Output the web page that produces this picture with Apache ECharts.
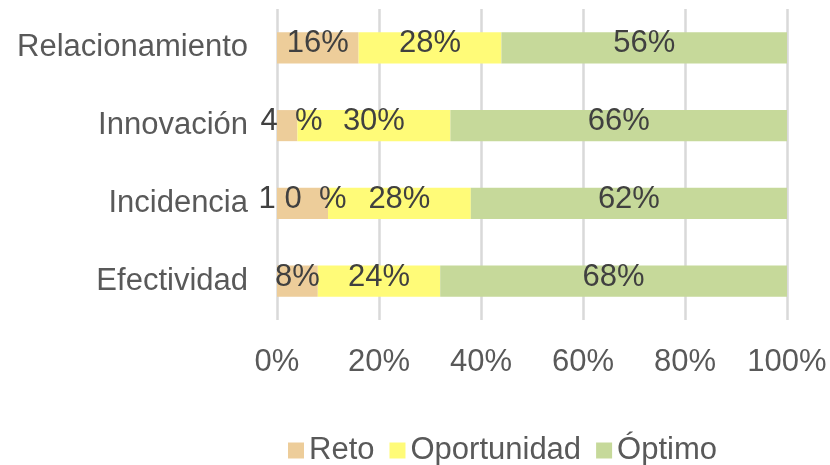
<!DOCTYPE html>
<html>
<head>
<meta charset="utf-8">
<script src="https://cdn.jsdelivr.net/npm/echarts@6/dist/echarts.min.js"></script>
<style>
  html, body { margin: 0; padding: 0; background: #fff; }
  #chart { width: 830px; height: 465px; }
</style>
</head>
<body>
<div id="chart"></div>
<script>
  // categorias de arriba hacia abajo
  var categories = ['Relacionamiento', 'Innovación', 'Incidencia', 'Efectividad']
  var reto = [16, 4, 10, 8]
  var oportunidad = [28, 30, 28, 24]
  var optimo = [56, 66, 62, 68]
  // etiquetas de Reto tal como salen en la imagen (separadas)
  var retoLabels = ['16%', ' 4  %', '1 0  %', '8%']
  var xTicks = [0, 20, 40, 60, 80, 100]

  var font = 'Liberation Sans, Arial, sans-serif'
  var myChart = echarts.init(document.getElementById('chart'))

  function labelCfg (fmt) {
    return {
      show: true,
      position: 'inside',
      offset: [0, -4],
      color: '#404040',
      fontSize: 31,
      fontFamily: font,
      formatter: fmt
    }
  }

  myChart.setOption({
    animation: false,
    grid: { top: 9, bottom: 145, left: 277, right: 43 },
    legend: {
      top: 430,
      left: 283,
      itemWidth: 16,
      itemHeight: 16,
      itemGap: 15,
      icon: 'rect',
      textStyle: { color: '#595959', fontSize: 31, fontFamily: font },
      data: ['Reto', 'Oportunidad', 'Óptimo']
    },
    xAxis: {
      type: 'value',
      min: xTicks[0],
      max: xTicks[xTicks.length - 1],
      interval: 20,
      axisLine: { show: false },
      axisTick: { show: false },
      splitLine: { lineStyle: { color: '#d9d9d9', width: 2.5 } },
      axisLabel: {
        formatter: '{value}%',
        color: '#595959',
        fontSize: 31,
        fontFamily: font,
        margin: 27
      }
    },
    yAxis: {
      type: 'category',
      inverse: true,
      data: categories,
      axisLine: { show: false },
      axisTick: { show: false },
      axisLabel: { color: '#595959', fontSize: 31, fontFamily: font, margin: 29 }
    },
    series: [
      {
        name: 'Reto',
        type: 'bar',
        stack: 'total',
        barWidth: '40%',
        itemStyle: { color: '#EDCD9A' },
        label: labelCfg(function (p) { return retoLabels[p.dataIndex] }),
        data: reto
      },
      {
        name: 'Oportunidad',
        type: 'bar',
        stack: 'total',
        itemStyle: { color: '#FFFB78' },
        label: labelCfg('{c}%'),
        data: oportunidad
      },
      {
        name: 'Óptimo',
        type: 'bar',
        stack: 'total',
        itemStyle: { color: '#C6D99A' },
        label: labelCfg('{c}%'),
        data: optimo
      }
    ]
  })
</script>
</body>
</html>
